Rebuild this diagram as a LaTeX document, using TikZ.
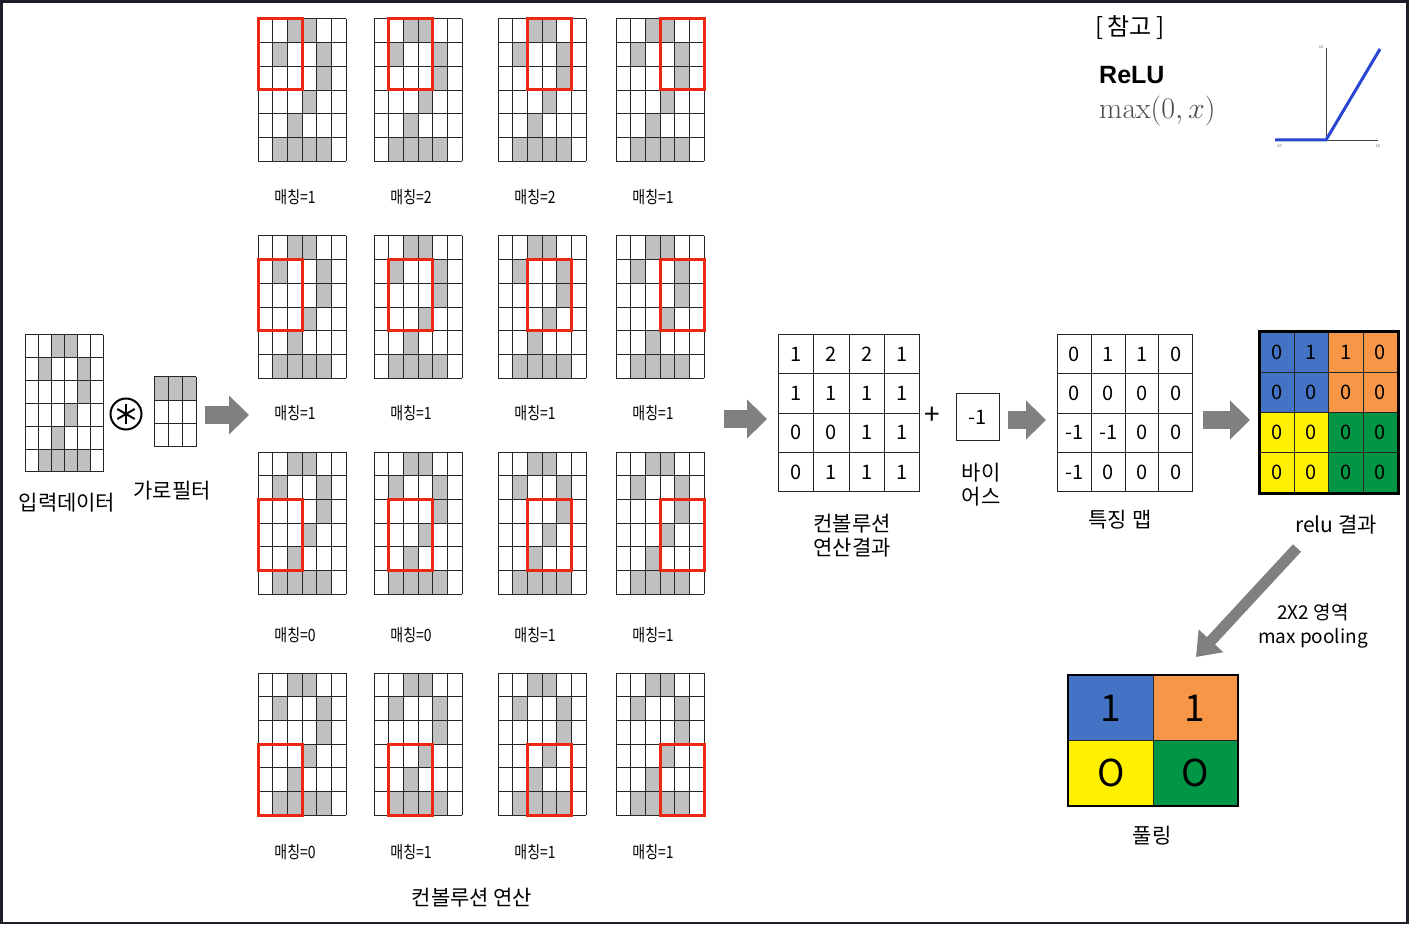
\RequirePackage{fix-cm}
\documentclass[tikz,border=0pt]{standalone}
\usepackage[no-math]{fontspec}
\setmainfont{Noto Sans CJK KR}
\newfontfamily\arialf{Liberation Sans}
\usetikzlibrary{matrix,arrows.meta}
\definecolor{cellgray}{RGB}{192,192,192}
\definecolor{arrgray}{RGB}{128,128,128}
\definecolor{winred}{RGB}{235,40,20}
\definecolor{rblue}{RGB}{68,114,196}
\definecolor{rorange}{RGB}{247,150,70}
\definecolor{ryellow}{RGB}{255,240,0}
\definecolor{rgreen}{RGB}{0,150,70}
\definecolor{framecol}{RGB}{30,30,40}
\definecolor{relublue}{RGB}{40,70,210}
\tikzset{
  gridline/.style={line width=1pt, draw=black!85},
  redwin/.style={draw=winred, line width=3pt},
  lbl/.style={font=\fontsize{17}{19}\selectfont, inner sep=0},
  klbl/.style={font=\fontsize{21}{24}\selectfont, align=center, inner sep=0},
  blockarr/.style={draw=arrgray, line width=18pt, -{Triangle[length=20pt,width=38pt]}},
  diagarr/.style={draw=arrgray, line width=11pt, -{Triangle[length=22pt,width=32pt]}},
  cell/.style={draw=black!85, line width=1pt, minimum width=35.25pt, minimum height=39.25pt,
    inner sep=0, outer sep=0, font=\fontsize{20}{20}\selectfont, anchor=center},
  tbl/.style={matrix of nodes, column sep=-1pt, row sep=-1pt, inner sep=0pt, outer sep=0pt, anchor=north west},
  pics/digit/.style 2 args={code={
    \foreach \r/\c in {0/2,0/3,1/1,1/4,2/4,3/3,4/2,5/1,5/2,5/3,5/4}
      \fill[cellgray] (\c*#1,\r*#2) rectangle ++(#1,#2);
    \foreach \k in {0,...,6} {
      \draw[gridline] (\k*#1,0) -- (\k*#1,6*#2);
      \draw[gridline] (0,\k*#2) -- (6*#1,\k*#2);
    }
    \coordinate (-c) at (3*#1,3*#2);
  }},
  pics/filt/.style 2 args={code={
    \fill[cellgray] (0,0) rectangle (3*#1,#2);
    \foreach \k in {0,...,3} {
      \draw[gridline] (\k*#1,0) -- (\k*#1,3*#2);
      \draw[gridline] (0,\k*#2) -- (3*#1,\k*#2);
    }
    \coordinate (-c) at (1.5*#1,1.5*#2);
  }}
}
\begin{document}
\begin{tikzpicture}[x=1pt,y=-1pt]
\useasboundingbox (0,0) rectangle (1409,925);
\draw[framecol, line width=2.5pt] (1.5,1.5) rectangle (1407.5,923);

% input and filter
\pic (in) at (25,335) {digit={13}{22.83}};
\node[circle, draw, line width=2pt, minimum size=31pt, inner sep=0] (op) at (126,414) {};
\draw[line width=2pt] (op.center) ++(0,-10) -- ++(0,20);
\draw[line width=2pt] (op.center) ++(-8.7,-5) -- ++(17.4,10);
\draw[line width=2pt] (op.center) ++(-8.7,5) -- ++(17.4,-10);
\pic (fi) at (154,377) {filt={14}{23.33}};
\node[klbl] (inlbl) at (67,503) {입력데이터};
\node[klbl] (filbl) at (172,491) {가로필터};

% arrows
\coordinate (a1s) at (205,415); \coordinate (a1e) at (249,415);
\coordinate (a2s) at (724,419); \coordinate (a2e) at (767,419);
\coordinate (a3s) at (1008,420); \coordinate (a3e) at (1046,420);
\coordinate (a4s) at (1203,420); \coordinate (a4e) at (1250,420);
\draw[blockarr] (a1s) -- (a1e);
\draw[blockarr] (a2s) -- (a2e);
\draw[blockarr] (a3s) -- (a3e);
\draw[blockarr] (a4s) -- (a4e);

% sixteen grids
\foreach \i/\y/\ly in {0/19/197,1/236/413,2/452/635,3/673/852} {
  \foreach \j/\x in {0/258,1/374,2/498,3/616} {
    \pgfmathtruncatemacro\m{{1,2,2,1,1,1,1,1,0,0,1,1,0,1,1,1}[\i*4+\j]}
    \pic (g\i\j) at (\x,\y) {digit={14.67}{23.67}};
    \draw[redwin] (\x+\j*14.67,\y+\i*23.67) rectangle ++(44,71);
    \node[lbl] (m\i\j) at (\x+37,\ly) {\scalebox{0.82}[1]{매칭=\m}};
  }
}
\node[klbl] (convlbl) at (472,898) {컨볼루션 연산};

% convolution result
\matrix (cr) [tbl, nodes={cell}] at (778,334) {
1 & 2 & 2 & 1\\
1 & 1 & 1 & 1\\
0 & 0 & 1 & 1\\
0 & 1 & 1 & 1\\
};
\node[klbl] (crlbl) at (852,536) {컨볼루션\\연산결과};
\node[font=\fontsize{28}{28}\selectfont, inner sep=0] (plus) at (932,416) {+};
\node[cell, minimum width=43pt, minimum height=46pt] (bias) at (977.5,417) {-1};
\node[klbl] (biaslbl) at (981,485) {바이\\어스};

% feature map
\matrix (fm) [tbl, nodes={cell, minimum width=33.75pt}] at (1057,334) {
0 & 1 & 1 & 0\\
0 & 0 & 0 & 0\\
-1 & -1 & 0 & 0\\
-1 & 0 & 0 & 0\\
};
\node[klbl] (fmlbl) at (1120,520) {특징 맵};

% relu result
\matrix (rl) [tbl, nodes={cell, minimum width=34.5pt, minimum height=40pt}] at (1259,332) {
|[fill=rblue]|0 & |[fill=rblue]|1 & |[fill=rorange]|1 & |[fill=rorange]|0\\
|[fill=rblue]|0 & |[fill=rblue]|0 & |[fill=rorange]|0 & |[fill=rorange]|0\\
|[fill=ryellow]|0 & |[fill=ryellow]|0 & |[fill=rgreen]|0 & |[fill=rgreen]|0\\
|[fill=ryellow]|0 & |[fill=ryellow]|0 & |[fill=rgreen]|0 & |[fill=rgreen]|0\\
};
\draw[line width=3pt] (rl.north west) rectangle (rl.south east);
\node[klbl] (rllbl) at (1336,525) {relu 결과};

% pooling
\coordinate (d1) at (1297,548); \coordinate (d2) at (1196,657);
\draw[diagarr] (d1) -- (d2);
\node[klbl, font=\fontsize{19}{24}\selectfont] (mplbl) at (1313,626) {2X2 영역\\max pooling};
\matrix (pl) [tbl, nodes={cell, minimum width=84.5pt, minimum height=65pt, font=\fontsize{37}{37}\selectfont}] at (1068,675) {
|[fill=rblue]|1 & |[fill=rorange]|1\\
|[fill=ryellow]|O & |[fill=rgreen]|O\\
};
\draw[line width=2.5pt] (pl.north west) rectangle (pl.south east);
\node[klbl] (pllbl) at (1152,836) {풀링};

% reference
\node[font=\fontsize{24}{24}\selectfont, inner sep=0] (ref) at (1130,28) {[\,참고\,]};
\node[font=\arialf\bfseries\fontsize{25}{25}\selectfont, anchor=west, inner sep=0] (relu) at (1099,75) {ReLU};
\node[anchor=west, inner sep=0, text=black!70] (maxf) at (1099,111) {\fontsize{30}{30}\selectfont $\max(0,x)$};
\coordinate (o) at (1326,140);
\coordinate (ytop) at (1326,48);
\coordinate (xl) at (1275,140);
\coordinate (xr) at (1378,140);
\coordinate (lt) at (1380,49);
\draw[black!75, line width=0.8pt] (ytop) -- (o);
\draw[black!75, line width=0.8pt] (xl) -- (xr);
\draw[relublue, line width=3pt] (xl) -- (o) -- (lt);
\node[font=\fontsize{4}{4}\selectfont, text=black!60, inner sep=0] (t1) at (1321,47) {10};
\node[font=\fontsize{4}{4}\selectfont, text=black!60, inner sep=0] (t2) at (1279,146) {-10};
\node[font=\fontsize{4}{4}\selectfont, text=black!60, inner sep=0] (t3) at (1378,146) {10};
\end{tikzpicture}
\end{document}
